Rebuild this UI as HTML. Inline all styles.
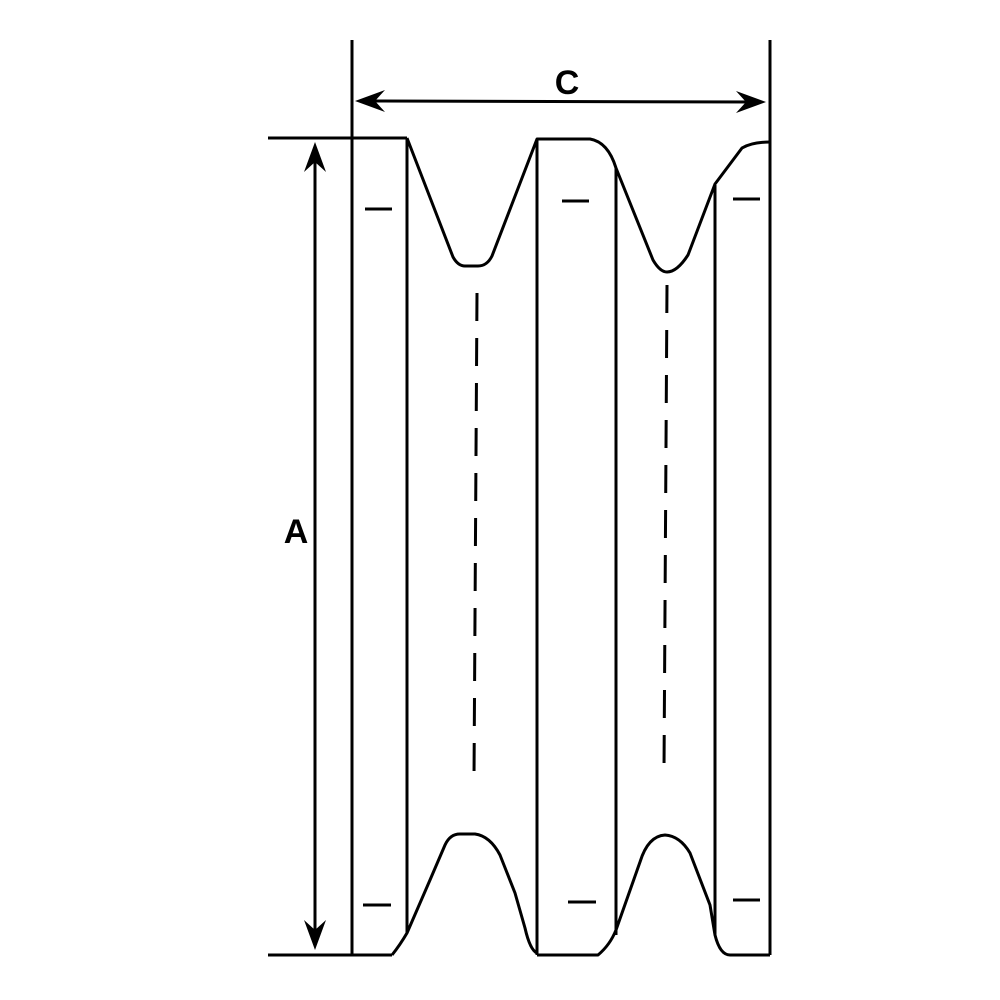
<!DOCTYPE html>
<html><head><style>body{margin:0;background:#fff}svg{display:block}</style></head>
<body>
<svg width="1000" height="1000" viewBox="0 0 1000 1000" xmlns="http://www.w3.org/2000/svg">
<g fill="none" stroke="#000" stroke-width="3" stroke-linejoin="round">
<line x1="352" y1="40" x2="352" y2="955"/>
<line x1="770" y1="40" x2="770" y2="955"/>
<line x1="268" y1="138" x2="407" y2="138"/>
<line x1="268" y1="955" x2="392" y2="955"/>
<line x1="407" y1="138" x2="407" y2="933"/>
<line x1="537" y1="139" x2="537" y2="955"/>
<line x1="616" y1="168" x2="616" y2="935"/>
<line x1="715" y1="185" x2="715" y2="935"/>
<path d="M407,138 L453,257 Q458,266 465,266 L478,266 Q487,266 492,256 L537,139 L590,139 Q608,142 616,168 L653,260 Q660,272 667,272 Q677,272 688,255 L715,184 L742,148 Q752,142 770,142"/>
<path d="M392,955 Q400,945 407,933 L430,880 L445,845 Q450,834 460,834 L475,834 Q490,836 500,855 L515,893 L525,928 Q530,950 537,953"/>
<path d="M537,955 L598,955 Q610,945 616,930 L640,862 Q648,836 665,835 Q680,836 690,853 L710,905 L715,935 Q720,955 730,955 L770,955"/>
<line x1="365" y1="209" x2="392" y2="209"/>
<line x1="562" y1="201" x2="589" y2="201"/>
<line x1="733" y1="199" x2="760" y2="199"/>
<line x1="363" y1="905" x2="391" y2="905"/>
<line x1="568" y1="902" x2="596" y2="902"/>
<line x1="733" y1="900" x2="760" y2="900"/>
<line x1="477" y1="293" x2="474" y2="778" stroke-dasharray="28,17"/>
<line x1="667" y1="285" x2="664" y2="770" stroke-dasharray="28,17"/>
<line x1="360" y1="101" x2="760" y2="102"/>
<line x1="315" y1="150" x2="315" y2="942"/>
</g>
<g fill="#000">
<path d="M355,101 L385,90 L375,101 L385,112 Z"/>
<path d="M766,102 L736,91 L746,102 L736,113 Z"/>
<path d="M315,142 L304,172 L315,162 L326,172 Z"/>
<path d="M315,950 L304,920 L315,930 L326,920 Z"/>
</g>
<text x="567" y="94" font-family="Liberation Sans, sans-serif" font-weight="bold" font-size="34" text-anchor="middle">C</text>
<text x="296" y="543" font-family="Liberation Sans, sans-serif" font-weight="bold" font-size="34" text-anchor="middle">A</text>
</svg>
</body></html>
